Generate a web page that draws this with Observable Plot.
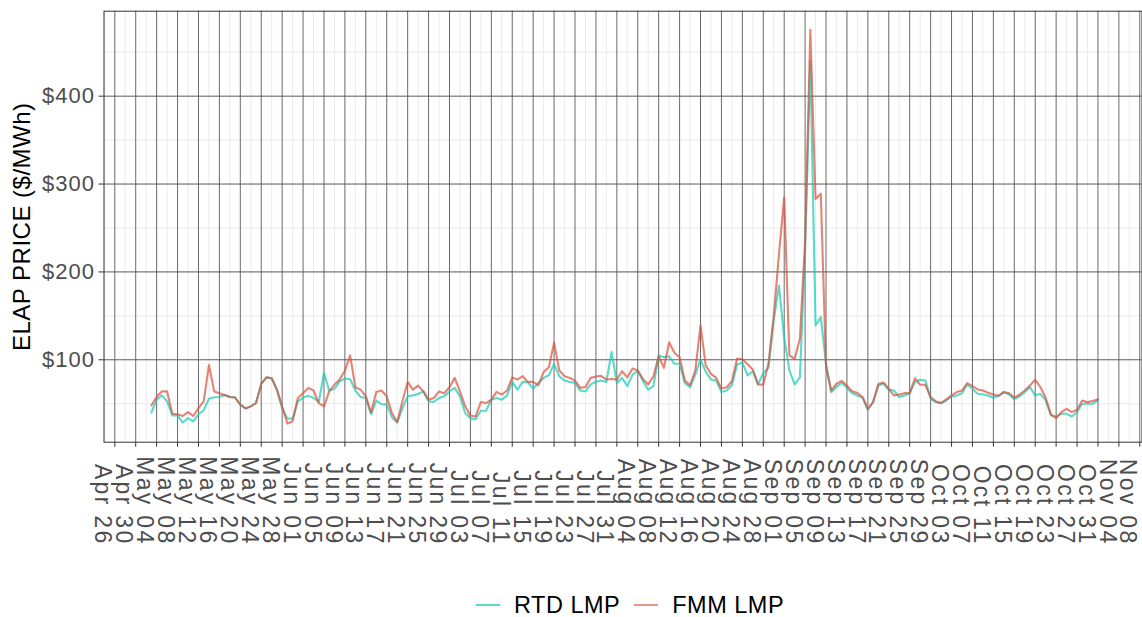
<!DOCTYPE html>
<html>
<head>
<meta charset="utf-8">
<script src="https://cdn.jsdelivr.net/npm/d3@7"></script>
<script src="https://cdn.jsdelivr.net/npm/@observablehq/plot@0.6"></script>
<style>
  html, body { margin: 0; padding: 0; background: #fff; overflow: hidden; }
  body { width: 1142px; height: 617px; position: relative; font-family: "Liberation Sans", Arial, sans-serif; }
  #legend { position: absolute; left: 476px; top: 590px; height: 30px; display: flex; align-items: center; font-size: 23.5px; letter-spacing: 0.5px; color: #000; }
  #legend .sw { width: 24px; height: 0; border-top: 2.5px solid; margin-right: 14px; }
  #legend .lab { margin-right: 14px; }
</style>
</head>
<body>
<div id="chart"></div>
<div id="legend">
  <span class="sw" style="border-color: rgba(21,201,181,0.7)"></span><span class="lab">RTD LMP</span>
  <span class="sw" style="border-color: rgba(216,80,58,0.6)"></span><span class="lab">FMM LMP</span>
</div>
<script>
// ---- data ----
const firstDay = "May 03 2023";           // first daily observation
const seriesNames = ["RTD LMP", "FMM LMP"];
const seriesColors = ["#15C9B5", "#D8503A"];

const rtdLMP = [
  40, 54.6, 59.5, 52.7, 36.6, 36.6, 28.6, 33.6, 29.8, 38,
  42.4, 55.7, 57.3, 57.6, 60, 57.6, 57, 49, 44.6, 47,
  50.8, 72.5, 80, 79, 66, 45, 33, 33, 52.7, 57,
  59, 56.5, 52, 85, 65, 67, 75.5, 78.6, 77.8, 65,
  57.6, 56.5, 38, 53.4, 49.6, 49, 34.4, 28.5, 45, 58.4,
  59.5, 61, 64, 52.7, 52, 56.5, 58.4, 64, 68, 58.4,
  39.3, 33.6, 32.4, 42, 42, 54.6, 56.5, 54.6, 59.5, 74.8,
  66, 74.8, 74.4, 67.2, 73.7, 79.4, 82.4, 95.4, 81.3, 76.3,
  74.8, 73.7, 65, 64, 72, 75, 76.3, 74.8, 109, 73.7,
  79.4, 70, 83, 87.8, 75.6, 66, 70, 105, 103, 104,
  95.4, 95.4, 73.7, 68.7, 83, 100.4, 86.3, 77.5, 76.3, 63.4,
  65, 71, 94.7, 97, 82.3, 87, 72, 85, 91, 145,
  184.6, 125, 88, 72, 80, 225, 440.6, 139, 148.6, 95.5,
  63, 69, 74, 68, 62, 59.4, 56.8, 43.1, 51.8, 70.8,
  72.7, 65.9, 65, 57.5, 59.4, 62, 74.6, 77.2, 76.5, 55.6,
  51.8, 50.7, 53.7, 58.3, 59.4, 62, 71.9, 67, 61.3, 60.5,
  59.4, 56.8, 59, 63.2, 60.5, 55.2, 58.3, 63.2, 68.9, 59.4,
  61.3, 53.7, 36.6, 35.5, 38.5, 38.5, 35.5, 40.4, 49.9, 49.9,
  49.9, 53.7
];

const fmmLMP = [
  48, 58, 64, 64, 38.5, 38, 36, 40.5, 36, 45,
  52.7, 94, 64, 62, 60, 57.6, 57, 49, 44.6, 47,
  50.8, 72.5, 80, 79, 66, 47, 27.5, 30, 56.5, 62,
  68, 65, 50.8, 47, 64, 71.8, 77.5, 87.5, 105, 68.7,
  66, 58.4, 40, 63.4, 65, 58.4, 39.3, 29, 52.7, 74.8,
  66, 70.6, 64, 54.6, 56.5, 64, 62, 68.7, 79.4, 64,
  47, 36.6, 35.5, 52, 50.8, 54.6, 63.4, 60.3, 65, 80,
  77.5, 81.3, 74.8, 74.8, 71, 86, 91.6, 119.5, 87.8, 81.3,
  79.4, 76.3, 68, 69, 79.4, 81, 81.7, 77.5, 78.2, 77.5,
  87, 80, 90, 87.8, 78.2, 71.8, 81.3, 104, 90.8, 120,
  108, 103, 76.3, 71, 87.8, 139.3, 93.5, 84, 79.4, 67.2,
  68.7, 75.6, 101.5, 100.5, 95, 89, 72, 71.5, 96, 150,
  220, 285, 105, 101, 124, 235, 475.5, 283, 289, 91.7,
  65, 72.7, 76, 70.5, 64.3, 62.2, 57.5, 44.2, 51.8, 72.3,
  74.2, 67, 59.4, 60.5, 62, 62, 79, 71.5, 71.5, 57.5,
  52.6, 50.7, 54.9, 59.4, 63.2, 65, 73.4, 70, 66.2, 65,
  62.4, 60.5, 59, 63.2, 62, 56.8, 60.5, 65, 70.8, 77.2,
  68.9, 56.8, 37.8, 33.6, 40.4, 44.2, 40.4, 43.1, 53.7, 51.8,
  53, 55.2
];

const xTickLabels = [
  "Apr 26","Apr 30","May 04","May 08","May 12","May 16","May 20","May 24","May 28",
  "Jun 01","Jun 05","Jun 09","Jun 13","Jun 17","Jun 21","Jun 25","Jun 29",
  "Jul 03","Jul 07","Jul 11","Jul 15","Jul 19","Jul 23","Jul 27","Jul 31",
  "Aug 04","Aug 08","Aug 12","Aug 16","Aug 20","Aug 24","Aug 28",
  "Sep 01","Sep 05","Sep 09","Sep 13","Sep 17","Sep 21","Sep 25","Sep 29",
  "Oct 03","Oct 07","Oct 11","Oct 15","Oct 19","Oct 23","Oct 27","Oct 31",
  "Nov 04","Nov 08"
];
const yTicks = [100, 200, 300, 400];
const yMinor = [50, 150, 250, 350, 450];
const yTitle = "ELAP PRICE ($/MWh)";

// ---- build ----
const parse = d3.utcParse("%b %d %Y");
const DAY = 864e5;
const start = parse(firstDay);
const dateAt = i => new Date(+start + i * DAY);

const rows = [];
rtdLMP.forEach((v, i) => rows.push({date: dateAt(i), value: v, series: seriesNames[0]}));
fmmLMP.forEach((v, i) => rows.push({date: dateAt(i), value: v, series: seriesNames[1]}));

const tickDates = xTickLabels.map(s => parse(s + " 2023"));
const t0 = tickDates[0], tN = tickDates[tickDates.length - 1];
const xDomain = [new Date(+t0 - 2.0652 * DAY), new Date(+tN + 0.4207 * DAY)];
const minorDates = d3.range(-1, tickDates.length).map(i => new Date(+t0 + (i * 4 + 2) * DAY))
  .filter(d => d >= xDomain[0] && d <= xDomain[1]);
const fmtLabel = d3.utcFormat("%b %d");

const chart = Plot.plot({
  width: 1142,
  height: 590,
  marginLeft: 103.5,
  marginRight: 0.5,
  marginTop: 10.7,
  marginBottom: 148.3,
  x: {type: "utc", domain: xDomain},
  y: {domain: [6.2, 496.7]},
  color: {domain: seriesNames, range: seriesColors},
  style: {fontFamily: "'Liberation Sans', Arial, sans-serif", background: "#fff", overflow: "visible"},
  marks: [
    Plot.ruleX(minorDates, {stroke: "#ebebeb", strokeWidth: 1}),
    Plot.ruleY(yMinor, {stroke: "#ebebeb", strokeWidth: 1}),
    Plot.ruleX(tickDates, {stroke: "#6a6a6a", strokeWidth: 1}),
    Plot.ruleY(yTicks, {stroke: "#5a5a5a", strokeWidth: 1}),
    Plot.line(rows.filter(r => r.series === seriesNames[0]), {x: "date", y: "value", stroke: "series", strokeWidth: 2.1, strokeOpacity: 0.7}),
    Plot.line(rows.filter(r => r.series === seriesNames[1]), {x: "date", y: "value", stroke: "series", strokeWidth: 2.1, strokeOpacity: 0.7}),
    Plot.frame({stroke: "#333", strokeWidth: 1}),
    Plot.axisY(yTicks, {tickSize: 5, tickPadding: 4, tickFormat: d => "$" + d, fontSize: 22, fill: "#4d4d4d", stroke: "#333", label: null}),
    Plot.axisX(tickDates, {tickSize: 5, tickFormat: () => "", stroke: "#333", label: null}),
    Plot.text(tickDates, {x: d => d, frameAnchor: "bottom", text: d => fmtLabel(d), rotate: 90,
      textAnchor: "end", lineAnchor: "top", dx: -3, dy: 103.3, fontSize: 23, fill: "#4d4d4d"}),
    Plot.text([yTitle], {frameAnchor: "left", text: d => d, rotate: -90, dx: -81.5,
      textAnchor: "middle", lineAnchor: "middle", fontSize: 24, fill: "#000"})
  ]
});
// letter spacing to match the reference's wider text
const textGroups = chart.querySelectorAll('g[aria-label="text"]');
if (textGroups[0]) textGroups[0].style.letterSpacing = "2.3px";
if (textGroups[1]) textGroups[1].style.letterSpacing = "0.5px";
const yLab = chart.querySelector('g[aria-label="y-axis tick label"]');
if (yLab) yLab.style.letterSpacing = "1px";
document.getElementById("chart").appendChild(chart);
</script>
</body>
</html>
